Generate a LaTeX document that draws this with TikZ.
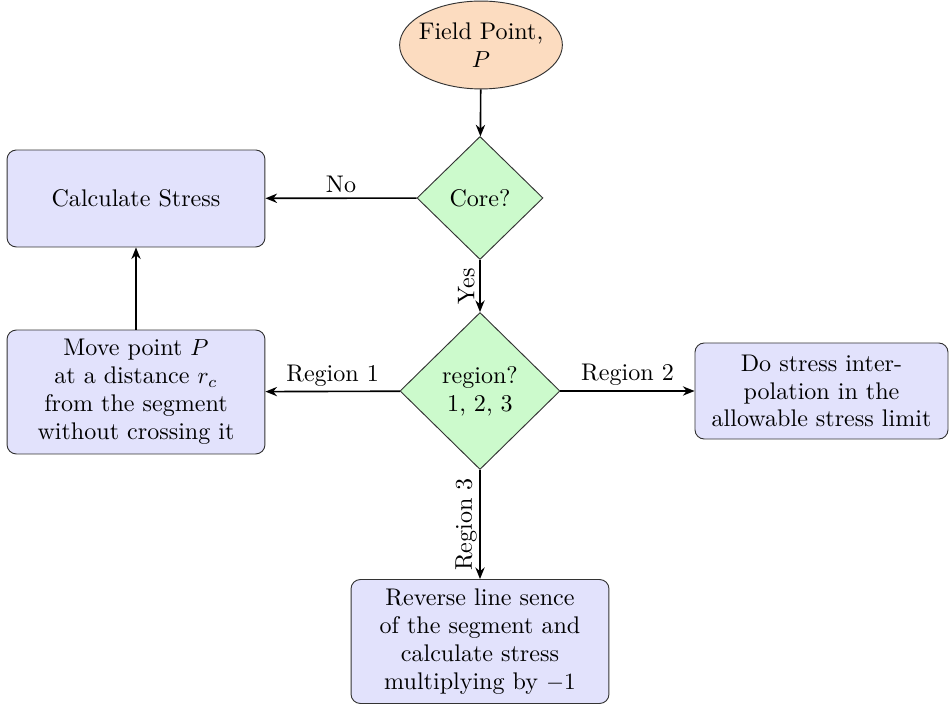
\documentclass[tikz,border=0pt]{standalone}
\usetikzlibrary{shapes.geometric,arrows.meta}
\definecolor{peach}{RGB}{252,220,192}
\definecolor{mint}{RGB}{204,250,204}
\definecolor{lav}{RGB}{226,226,252}
\begin{document}
\begin{tikzpicture}[x=0.43pt,y=-0.43pt,
  every node/.style={font=\fontsize{10.35}{12}\selectfont},
  startnode/.style={ellipse,draw=black!80,fill=peach,inner sep=-2pt,minimum width=69.7pt,minimum height=37.8pt,align=center},
  decide/.style={diamond,draw=black!80,fill=mint,inner sep=0pt,align=center},
  procbox/.style={rectangle,rounded corners=4pt,draw=black!80,fill=lav,align=center,inner sep=2pt},
  arr/.style={-{Stealth[length=5pt,width=4pt]},line width=0.7pt},
  lbl/.style={inner sep=1pt}
]
\useasboundingbox (0,0) rectangle (949,704);
\node[startnode] (fp) at (481,45) {Field Point,\\ $P$};
\node[decide,minimum width=54.2pt,minimum height=52.9pt] (core) at (480,198) {Core?};
\node[decide,minimum width=68.8pt,minimum height=67.5pt] (reg) at (480,391) {region?\\ 1, 2, 3};
\node[procbox,minimum width=110.9pt,minimum height=41.7pt] (calc) at (136,198.5) {Calculate Stress};
\node[procbox,minimum width=110.9pt,minimum height=53.3pt] (move) at (136,392) {Move point $P$\\ at a distance $r_c$\\ from the segment\\ without crossing it};
\node[procbox,minimum width=108.8pt,minimum height=41.3pt] (interp) at (821.5,391) {Do stress inter-\\ polation in the\\ allowable stress limit};
\node[procbox,minimum width=110.9pt,minimum height=53.3pt] (rev) at (480,641.5) {Reverse line sence\\ of the segment and\\ calculate stress\\ multiplying by $-1$};
\draw[arr] (fp) -- (core);
\draw[arr] (core) -- node[lbl,above=1pt,pos=0.5] {No} (calc);
\draw[arr] (core) -- node[lbl,rotate=90,above=1pt,anchor=south] {Yes} (reg);
\draw[arr] (reg) -- node[lbl,above=1pt,pos=0.5] {Region 1} (move);
\draw[arr] (reg) -- node[lbl,above=1pt,pos=0.5] {Region 2} (interp);
\draw[arr] (reg) -- node[lbl,rotate=90,anchor=south] {Region 3} (rev);
\draw[arr] (move) -- (calc);
\end{tikzpicture}
\end{document}
